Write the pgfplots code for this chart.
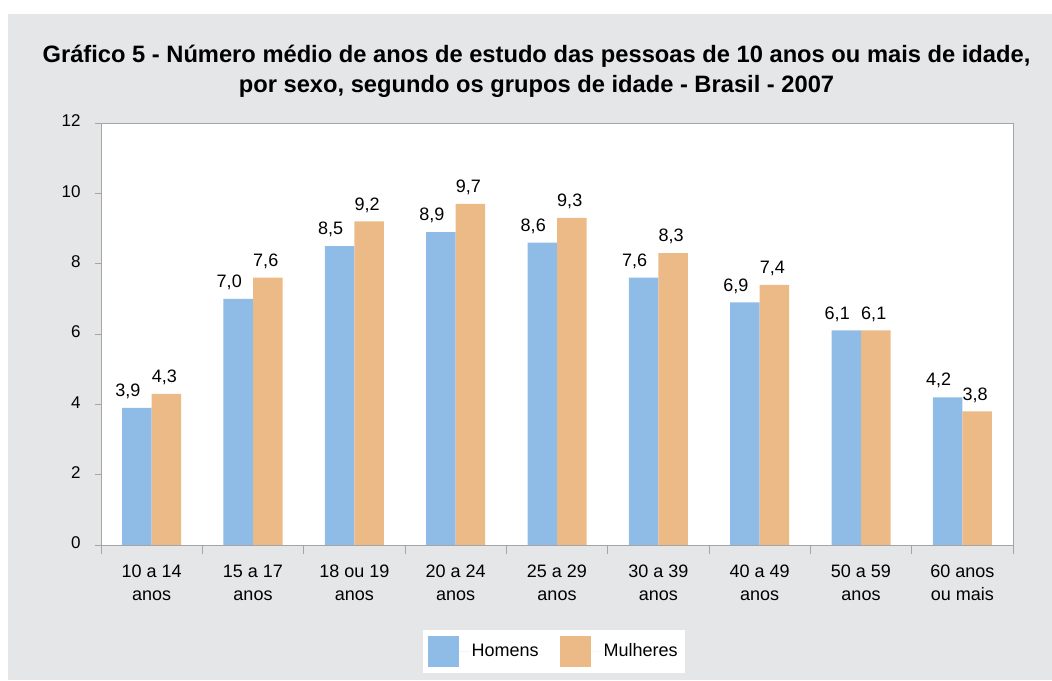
\documentclass[border=0pt]{standalone}
\usepackage{fontspec}
\setmainfont{Liberation Sans}
\usepackage{pgfplots}
\pgfplotsset{compat=1.18}
\definecolor{bgg}{RGB}{229,230,232}
\definecolor{hom}{RGB}{142,188,230}
\definecolor{mul}{RGB}{236,186,134}
\definecolor{axg}{RGB}{165,165,165}
\begin{document}
\begin{tikzpicture}[x=1pt,y=1pt]
\fill[bgg] (8,0) rectangle (1052,666);
\node[font=\fontsize{23.7}{27}\selectfont\bfseries, anchor=base] at (536.5,617) {Gráfico 5 - Número médio de anos de estudo das pessoas de 10 anos ou mais de idade,};
\node[font=\fontsize{23.7}{27}\selectfont\bfseries, anchor=base] at (536.5,587) {por sexo, segundo os grupos de idade - Brasil - 2007};
\begin{axis}[
  at={(101pt,135pt)}, anchor=south west,
  scale only axis, width=912pt, height=422pt,
  /pgf/number format/assume math mode=true,
  ybar=0pt, bar width=29.5pt,
  xmin=-0.5, xmax=8.5, ymin=0, ymax=12,
  ytick={0,2,...,12},
  xtick={-0.5,0.5,1.5,2.5,3.5,4.5,5.5,6.5,7.5,8.5},
  minor xtick={-0.5,0.5,1.5,2.5,3.5,4.5,5.5,6.5,7.5,8.5},
  xticklabels={{10 a 14\\anos},{15 a 17\\anos},{18 ou 19\\anos},{20 a 24\\anos},{25 a 29\\anos},{30 a 39\\anos},{40 a 49\\anos},{50 a 59\\anos},{60 anos\\ou mais},{}},
  typeset ticklabels with strut,
  xticklabel style={font=\fontsize{18}{23}\selectfont, align=center, anchor=north, xshift=50.667pt, yshift=-7pt},
  yticklabel style={font=\fontsize{17}{19}\selectfont, xshift=-11pt},
  tick align=outside, tick pos=left,
  major tick length=6pt, minor tick length=9pt,
  tick style={draw=axg, line width=0.8pt},
  axis line style={draw=axg, line width=0.8pt},
  axis background/.style={fill=white},
  nodes near coords={\pgfmathprintnumber[use comma,fixed,fixed zerofill,precision=1]{\pgfplotspointmeta}},
  nodes near coords style={font=\fontsize{18}{20}\selectfont, anchor=south, yshift=5.5pt},
  every axis plot/.append style={draw=none, legend image code/.code={\fill[##1] (0pt,-15.5pt) rectangle (31pt,15.5pt); \path (0pt,0pt) -- (42pt,0pt);}},
  legend style={at={(0.4962,-0.2512)}, anchor=center, draw=none, fill=white,
    legend columns=2, font=\fontsize{18}{21}\selectfont,
    inner xsep=5pt, inner ysep=6pt,
    /tikz/every even column/.append style={column sep=19pt}},
]
\addplot[fill=hom, draw=none, every node near coord/.append style={xshift=-9pt}] coordinates {(0,3.9) (1,7.0) (2,8.5) (3,8.9) (4,8.6) (5,7.6) (6,6.9) (7,6.1) (8,4.2)};
\addplot[fill=mul, draw=none, every node near coord/.append style={xshift=-2pt}] coordinates {(0,4.3) (1,7.6) (2,9.2) (3,9.7) (4,9.3) (5,8.3) (6,7.4) (7,6.1) (8,3.8)};
\legend{Homens, Mulheres}
\end{axis}
\pgfresetboundingbox
\path[use as bounding box] (0,0) rectangle (1052,680);
\end{tikzpicture}
\end{document}
